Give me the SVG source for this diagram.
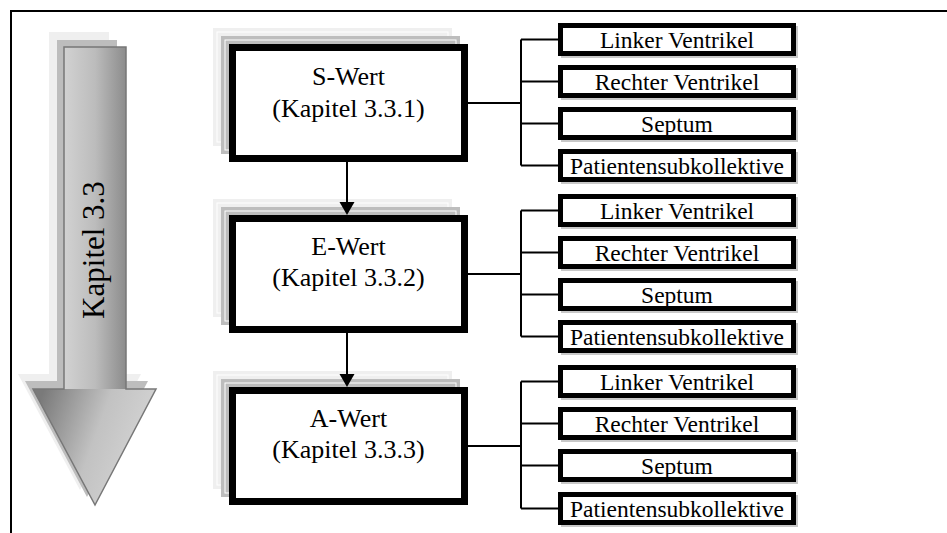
<svg xmlns="http://www.w3.org/2000/svg" width="947" height="533" viewBox="0 0 947 533">
<defs>
<style>
.frame{fill:none;stroke:#000;stroke-width:2}
.main{fill:#fff;stroke:#000;stroke-width:7}
.sh1{fill:#fff;stroke:#bdbdbd;stroke-width:8}
.sh2{fill:#fff;stroke:#efefef;stroke-width:8}
.hair{fill:none;stroke:#fff;stroke-width:1}
.sub{fill:#fff;stroke:#000;stroke-width:5}
.subsh{fill:none;stroke:#c8c8c8;stroke-width:2}
.t{font-family:"Liberation Serif","Times New Roman",serif;fill:#000;text-anchor:middle}
.tm{font-size:26px}
.ts{font-size:23.5px}
.ln{fill:none;stroke:#000;stroke-width:2}
.ah{fill:#000}
</style>
<linearGradient id="gShaft" gradientUnits="userSpaceOnUse" x1="64" y1="0" x2="126" y2="0">
<stop offset="0" stop-color="#d2d2d2"/>
<stop offset="0.5" stop-color="#bcbcbc"/>
<stop offset="1" stop-color="#8c8c8c"/>
</linearGradient>
<linearGradient id="gHead" gradientUnits="userSpaceOnUse" x1="40" y1="400" x2="150" y2="440">
<stop offset="0" stop-color="#7a7a7a"/>
<stop offset="0.55" stop-color="#c2c2c2"/>
<stop offset="1" stop-color="#d4d4d4"/>
</linearGradient>
</defs>
<rect width="947" height="533" fill="#fff"/>
<rect class="frame" x="11" y="11" width="960" height="540"/>

<g id="kapitel-arrow">
<path d="M49 32 H109 V374 H141 L80 490 L18 374 H49 Z" fill="#efefef"/>
<path d="M57 40 H117 V381 H148 L87 497 L25 381 H57 Z" fill="#bdbdbd"/>
<rect x="64" y="47" width="62" height="343" fill="url(#gShaft)"/>
<path d="M33 389 H156 L95 505 Z" fill="url(#gHead)"/>
<path d="M64 47 H126 V389 H156 L95 505 L33 389 H64 Z" fill="none" stroke="#777" stroke-width="1.5" stroke-linejoin="miter"/>
<text class="t" font-size="31" transform="translate(104,250) rotate(-90)">Kapitel 3.3</text>
</g>

<g id="s-wert">
<rect class="sh2" x="217" y="32" width="231" height="110"/>
<rect class="hair" x="217" y="32" width="231" height="110"/>
<rect class="sh1" x="225" y="40" width="231" height="110"/>
<rect class="hair" x="225" y="40" width="231" height="110"/>
<rect class="main" x="232.5" y="47.5" width="232" height="111"/>
<text class="t tm" x="348.5" y="85">S-Wert</text>
<text class="t tm" x="348.5" y="117">(Kapitel 3.3.1)</text>
</g>

<g id="e-wert">
<rect class="sh2" x="217" y="203" width="231" height="110"/>
<rect class="hair" x="217" y="203" width="231" height="110"/>
<rect class="sh1" x="225" y="211" width="231" height="110"/>
<rect class="hair" x="225" y="211" width="231" height="110"/>
<rect class="main" x="232.5" y="218.5" width="232" height="111"/>
<text class="t tm" x="348.5" y="255">E-Wert</text>
<text class="t tm" x="348.5" y="286">(Kapitel 3.3.2)</text>
</g>

<g id="a-wert">
<rect class="sh2" x="217" y="375" width="231" height="110"/>
<rect class="hair" x="217" y="375" width="231" height="110"/>
<rect class="sh1" x="225" y="383" width="231" height="110"/>
<rect class="hair" x="225" y="383" width="231" height="110"/>
<rect class="main" x="232.5" y="390.5" width="232" height="111"/>
<text class="t tm" x="348.5" y="427">A-Wert</text>
<text class="t tm" x="348.5" y="458">(Kapitel 3.3.3)</text>
</g>

<g id="s-linker">
<rect class="subsh" x="562" y="27" width="235" height="30"/>
<rect class="sub" x="560.5" y="25.5" width="233" height="28"/>
<text class="t ts" x="677" y="48">Linker Ventrikel</text>
</g>
<g id="s-rechter">
<rect class="subsh" x="562" y="69" width="235" height="30"/>
<rect class="sub" x="560.5" y="67.5" width="233" height="28"/>
<text class="t ts" x="677" y="90">Rechter Ventrikel</text>
</g>
<g id="s-septum">
<rect class="subsh" x="562" y="111" width="235" height="30"/>
<rect class="sub" x="560.5" y="109.5" width="233" height="28"/>
<text class="t ts" x="677" y="132">Septum</text>
</g>
<g id="s-patienten">
<rect class="subsh" x="562" y="153" width="235" height="30"/>
<rect class="sub" x="560.5" y="151.5" width="233" height="28"/>
<text class="t ts" x="677" y="174">Patientensubkollektive</text>
</g>

<g id="e-linker">
<rect class="subsh" x="562" y="198" width="235" height="30"/>
<rect class="sub" x="560.5" y="196.5" width="233" height="28"/>
<text class="t ts" x="677" y="219">Linker Ventrikel</text>
</g>
<g id="e-rechter">
<rect class="subsh" x="562" y="240" width="235" height="30"/>
<rect class="sub" x="560.5" y="238.5" width="233" height="28"/>
<text class="t ts" x="677" y="261">Rechter Ventrikel</text>
</g>
<g id="e-septum">
<rect class="subsh" x="562" y="282" width="235" height="30"/>
<rect class="sub" x="560.5" y="280.5" width="233" height="28"/>
<text class="t ts" x="677" y="303">Septum</text>
</g>
<g id="e-patienten">
<rect class="subsh" x="562" y="324" width="235" height="30"/>
<rect class="sub" x="560.5" y="322.5" width="233" height="28"/>
<text class="t ts" x="677" y="345">Patientensubkollektive</text>
</g>

<g id="a-linker">
<rect class="subsh" x="562" y="369" width="235" height="30"/>
<rect class="sub" x="560.5" y="367.5" width="233" height="28"/>
<text class="t ts" x="677" y="390">Linker Ventrikel</text>
</g>
<g id="a-rechter">
<rect class="subsh" x="562" y="411" width="235" height="30"/>
<rect class="sub" x="560.5" y="409.5" width="233" height="28"/>
<text class="t ts" x="677" y="432">Rechter Ventrikel</text>
</g>
<g id="a-septum">
<rect class="subsh" x="562" y="453" width="235" height="30"/>
<rect class="sub" x="560.5" y="451.5" width="233" height="28"/>
<text class="t ts" x="677" y="474">Septum</text>
</g>
<g id="a-patienten">
<rect class="subsh" x="562" y="496" width="235" height="30"/>
<rect class="sub" x="560.5" y="494.5" width="233" height="28"/>
<text class="t ts" x="677" y="517">Patientensubkollektive</text>
</g>

<g id="connectors">
<line class="ln" x1="347" y1="162" x2="347" y2="204"/>
<polygon class="ah" points="339.5,202 354.5,202 347,215"/>
<line class="ln" x1="347" y1="333" x2="347" y2="376"/>
<polygon class="ah" points="339.5,374 354.5,374 347,387"/>
<path class="ln" d="M468 103 H521 M521 39.5 V165.5 M521 39.5 H558 M521 81.5 H558 M521 123.5 H558 M521 165.5 H558"/>
<path class="ln" d="M468 274 H521 M521 210.5 V336.5 M521 210.5 H558 M521 252.5 H558 M521 294.5 H558 M521 336.5 H558"/>
<path class="ln" d="M468 446 H521 M521 381.5 V508.5 M521 381.5 H558 M521 423.5 H558 M521 465.5 H558 M521 508.5 H558"/>
</g>
</svg>
